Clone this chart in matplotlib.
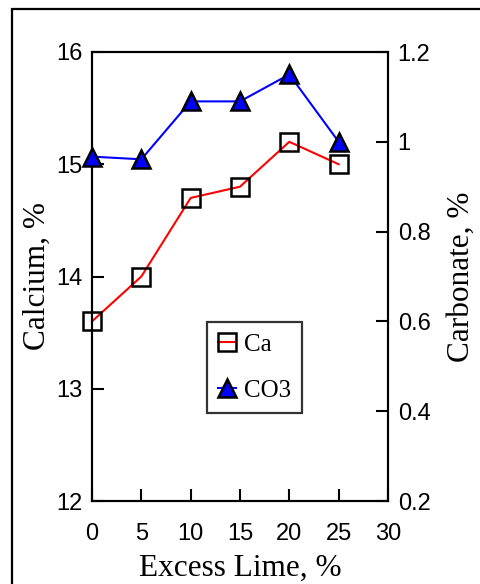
import matplotlib
matplotlib.use("Agg")
import matplotlib.pyplot as plt
from matplotlib.patches import Rectangle

# Data
excess_lime = [0, 5, 10, 15, 20, 25]
calcium = [13.6, 14.0, 14.7, 14.8, 15.2, 15.0]
carbonate = [0.967, 0.961, 1.09, 1.09, 1.15, 1.0]

x_ticks = [0, 5, 10, 15, 20, 25, 30]
ca_ticks = [12, 13, 14, 15, 16]
co3_ticks = [0.2, 0.4, 0.6, 0.8, 1.0, 1.2]
co3_tick_labels = ["0.2", "0.4", "0.6", "0.8", "1", "1.2"]

W, H = 481, 584
fig = plt.figure(figsize=(W / 100, H / 100), dpi=100)

# Outer frame around the whole chart
fig.patches.append(Rectangle((12 / W, -0.05), 1.2, (H - 9) / H + 0.05,
                             transform=fig.transFigure, fill=False,
                             edgecolor="black", linewidth=1.6))

left, right, top, bottom = 92, 388, 52, 501
ax = fig.add_axes([left / W, (H - bottom) / H, (right - left) / W, (bottom - top) / H])
ax2 = ax.twinx()

tick_font = {"family": "Liberation Sans", "size": 17}
label_font = {"family": "Liberation Serif", "size": 22.5}

ax.plot(excess_lime, calcium, color="red", linewidth=1.5, marker="s",
        markersize=13, markerfacecolor="none", markeredgecolor="black",
        markeredgewidth=1.8, label="Ca", zorder=3, clip_on=False)
ax2.plot(excess_lime, carbonate, color="blue", linewidth=1.5, marker="^",
         markersize=13.5, markerfacecolor="blue", markeredgecolor="black",
         markeredgewidth=1.8, label="CO3", zorder=3, clip_on=False)

ax.set_xlim(0, 30)
ax.set_ylim(12, 16)
ax2.set_ylim(0.2, 1.2)

ax.set_xticks(x_ticks)
ax.set_xticklabels([str(v) for v in x_ticks], fontdict=tick_font)
ax.set_yticks(ca_ticks)
ax.set_yticklabels([str(v) for v in ca_ticks], fontdict=tick_font)
ax2.set_yticks(co3_ticks)
ax2.set_yticklabels(co3_tick_labels, fontdict=tick_font)

ax.tick_params(axis="x", direction="in", length=8.5, width=1.5, pad=16,
               top=False, bottom=True)
ax.tick_params(axis="y", direction="in", length=8.5, width=1.5, pad=7,
               left=True, right=False)
ax2.tick_params(axis="y", direction="in", length=8.5, width=1.5, pad=7,
                left=False, right=True)

for a in (ax, ax2):
    for s in a.spines.values():
        s.set_linewidth(1.5)

ax.set_xlabel("Excess Lime, %", fontdict=label_font, labelpad=6)
ax.set_ylabel("Calcium, %", fontdict=label_font, labelpad=3)
ax2.set_ylabel("Carbonate, %", fontdict=label_font, labelpad=12)

h1, l1 = ax.get_legend_handles_labels()
h2, l2 = ax2.get_legend_handles_labels()
leg = ax2.legend(h1 + h2, l1 + l2, loc="upper left",
                 bbox_to_anchor=(0.3885, 0.0, 0.321, 0.3987), mode="expand",
                 borderaxespad=0,
                 prop={"family": "Liberation Serif", "size": 18},
                 frameon=True, fancybox=False, edgecolor="black",
                 handlelength=0.7, handletextpad=0.35, labelspacing=0.95,
                 borderpad=0.45, markerscale=0.95)
leg.get_frame().set_linewidth(1.6)

fig.savefig("out.png", dpi=100)
